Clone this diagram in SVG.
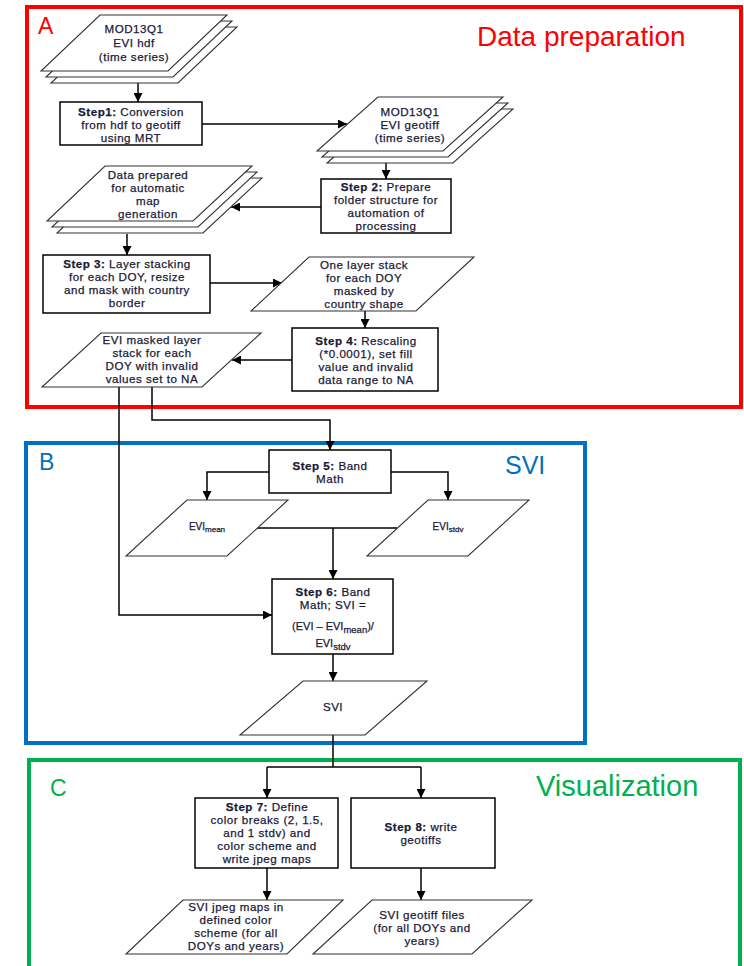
<svg xmlns="http://www.w3.org/2000/svg" width="744" height="966" viewBox="0 0 744 966">
<style>
  .bg{fill:#ffffff}
  .box{fill:#ffffff;stroke:#000;stroke-width:1.5}
  .io{fill:#ffffff;stroke:#333;stroke-width:1.1}
  .t{font-family:"Liberation Sans",Arial,sans-serif;font-size:11.6px;letter-spacing:0.5px;fill:#1a1a38;stroke:#1a1a38;stroke-width:0.25;text-anchor:middle}
  .b{font-weight:700}
  .small{font-size:10px;letter-spacing:0}
  .f11{font-size:11px;letter-spacing:0}
  .conn{fill:none;stroke:#000;stroke-width:1.5}
  .frame{fill:none;stroke-width:4}
  .lbl{font-family:"Liberation Sans",Arial,sans-serif}
</style>
<defs>
  <marker id="ah" viewBox="0 0 10 10" refX="10" refY="5" markerWidth="9" markerHeight="9" markerUnits="userSpaceOnUse" orient="auto">
    <path d="M0,0 L10,5 L0,10 z" fill="#000"/>
  </marker>
</defs>
<rect class="bg" x="0" y="0" width="744" height="966"/>

<g id="frames">
  <rect class="frame" x="27" y="7" width="714" height="400" stroke="#ff0000"/>
  <text class="lbl" x="38" y="34" font-size="23" fill="#ff0000">A</text>
  <text class="lbl" x="477" y="46" font-size="28" fill="#ff0000">Data preparation</text>
  <rect class="frame" x="26" y="443" width="559" height="300" stroke="#0070c0"/>
  <text class="lbl" x="39" y="470" font-size="23" fill="#0070c0">B</text>
  <text class="lbl" x="505" y="474" font-size="25" fill="#0070c0">SVI</text>
  <rect class="frame" x="29" y="760" width="711" height="230" stroke="#00b050"/>
  <text class="lbl" x="50" y="796" font-size="23" fill="#00b050">C</text>
  <text class="lbl" x="536" y="796" font-size="29" fill="#00b050">Visualization</text>
</g>

<g id="connectors">
  <path class="conn" d="M138,83 V102" marker-end="url(#ah)"/>
  <path class="conn" d="M202,124 H347" marker-end="url(#ah)"/>
  <path class="conn" d="M386,163 V179" marker-end="url(#ah)"/>
  <path class="conn" d="M321,207 H231" marker-end="url(#ah)"/>
  <path class="conn" d="M127,234 V255" marker-end="url(#ah)"/>
  <path class="conn" d="M210,283 H282" marker-end="url(#ah)"/>
  <path class="conn" d="M365,311 V328" marker-end="url(#ah)"/>
  <path class="conn" d="M292,360 H232" marker-end="url(#ah)"/>
  <path class="conn" d="M152,387 V420 H330 V450" marker-end="url(#ah)"/>
  <path class="conn" d="M119,387 V615 H272" marker-end="url(#ah)"/>
  <path class="conn" d="M269,472 H207 V500" marker-end="url(#ah)"/>
  <path class="conn" d="M391,472 H448 V500" marker-end="url(#ah)"/>
  <path class="conn" d="M256,528 H397"/>
  <path class="conn" d="M333,528 V579" marker-end="url(#ah)"/>
  <path class="conn" d="M333,654 V681" marker-end="url(#ah)"/>
  <path class="conn" d="M333,735 V767"/>
  <path class="conn" d="M267,767 H421"/>
  <path class="conn" d="M267,767 V798" marker-end="url(#ah)"/>
  <path class="conn" d="M421,767 V798" marker-end="url(#ah)"/>
  <path class="conn" d="M267,868 V900" marker-end="url(#ah)"/>
  <path class="conn" d="M421,868 V900" marker-end="url(#ah)"/>
</g>

<g id="evi-hdf">
  <polygon class="io" points="110,27 237,27 178,83 51,83"/>
  <polygon class="io" points="105,21 232,21 173,77 46,77"/>
  <polygon class="io" points="100,15 227,15 168,71 41,71"/>
  <text class="t" x="134" y="33">MOD13Q1</text>
  <text class="t" x="134" y="47">EVI hdf</text>
  <text class="t" x="134" y="61">(time series)</text>
</g>

<g id="step1">
  <rect class="box" x="60" y="102" width="142" height="43"/>
  <text class="t" x="131" y="116"><tspan class="b">Step1:</tspan> Conversion</text>
  <text class="t" x="131" y="129">from hdf to geotiff</text>
  <text class="t" x="131" y="142">using MRT</text>
</g>

<g id="evi-geotiff">
  <polygon class="io" points="388,109 513,109 453,163 327,163"/>
  <polygon class="io" points="383,103 508,103 448,157 322,157"/>
  <polygon class="io" points="378,97 503,97 443,151 317,151"/>
  <text class="t" x="410" y="116">MOD13Q1</text>
  <text class="t" x="410" y="129">EVI geotiff</text>
  <text class="t" x="410" y="142">(time series)</text>
</g>

<g id="step2">
  <rect class="box" x="321" y="179" width="130" height="54"/>
  <text class="t" x="386" y="191"><tspan class="b">Step 2:</tspan> Prepare</text>
  <text class="t" x="386" y="204">folder structure for</text>
  <text class="t" x="386" y="217">automation of</text>
  <text class="t" x="386" y="230">processing</text>
</g>

<g id="data-prepared">
  <polygon class="io" points="115,178 262,178 203,233 57,233"/>
  <polygon class="io" points="110,172 257,172 198,227 52,227"/>
  <polygon class="io" points="105,166 252,166 193,221 47,221"/>
  <text class="t" x="148" y="179">Data prepared</text>
  <text class="t" x="148" y="192">for automatic</text>
  <text class="t" x="148" y="205">map</text>
  <text class="t" x="148" y="218">generation</text>
</g>

<g id="step3">
  <rect class="box" x="43" y="255" width="167" height="58"/>
  <text class="t" x="127" y="268"><tspan class="b">Step 3:</tspan> Layer stacking</text>
  <text class="t" x="127" y="281">for each DOY, resize</text>
  <text class="t" x="127" y="294">and mask with country</text>
  <text class="t" x="127" y="307">border</text>
</g>

<g id="layer-stack">
  <polygon class="io" points="309,257 474,257 416,311 251,311"/>
  <text class="t" x="364" y="269">One layer stack</text>
  <text class="t" x="364" y="282">for each DOY</text>
  <text class="t" x="364" y="295">masked by</text>
  <text class="t" x="364" y="308">country shape</text>
</g>

<g id="step4">
  <rect class="box" x="292" y="328" width="146" height="63"/>
  <text class="t" x="366" y="345"><tspan class="b">Step 4:</tspan> Rescaling</text>
  <text class="t" x="366" y="358">(*0.0001), set fill</text>
  <text class="t" x="366" y="371">value and invalid</text>
  <text class="t" x="366" y="384">data range to NA</text>
</g>

<g id="evi-masked">
  <polygon class="io" points="101,333 261,333 202,387 42,387"/>
  <text class="t" x="152" y="344">EVI masked layer</text>
  <text class="t" x="152" y="357">stack for each</text>
  <text class="t" x="152" y="370">DOY with invalid</text>
  <text class="t" x="152" y="383">values set to NA</text>
</g>

<g id="step5">
  <rect class="box" x="269" y="450" width="122" height="43"/>
  <text class="t" x="330" y="470"><tspan class="b">Step 5:</tspan> Band</text>
  <text class="t" x="330" y="483">Math</text>
</g>

<g id="evi-mean">
  <polygon class="io" points="187,500 288,500 227,556 126,556"/>
  <text class="t small" x="207" y="530">EVI<tspan font-size="8" dy="2">mean</tspan></text>
</g>

<g id="evi-stdv">
  <polygon class="io" points="428,500 529,500 468,556 367,556"/>
  <text class="t small" x="448" y="530">EVI<tspan font-size="8" dy="2">stdv</tspan></text>
</g>

<g id="step6">
  <rect class="box" x="272" y="579" width="121" height="75"/>
  <text class="t" x="333" y="596"><tspan class="b">Step 6:</tspan> Band</text>
  <text class="t" x="333" y="609">Math; SVI =</text>
  <text class="t f11" x="333" y="630">(EVI – EVI<tspan font-size="9.5" dy="3">mean</tspan><tspan dy="-3">)/</tspan></text>
  <text class="t f11" x="333" y="647">EVI<tspan font-size="9.5" dy="3">stdv</tspan></text>
</g>

<g id="svi">
  <polygon class="io" points="303,681 427,681 365,735 240,735"/>
  <text class="t" x="333" y="711">SVI</text>
</g>

<g id="step7">
  <rect class="box" x="195" y="798" width="143" height="70"/>
  <text class="t" x="267" y="811"><tspan class="b">Step 7:</tspan> Define</text>
  <text class="t" x="267" y="824">color breaks (2, 1.5,</text>
  <text class="t" x="267" y="837">and 1 stdv) and</text>
  <text class="t" x="267" y="850">color scheme and</text>
  <text class="t" x="267" y="863">write jpeg maps</text>
</g>

<g id="step8">
  <rect class="box" x="351" y="798" width="144" height="70"/>
  <text class="t" x="421" y="831"><tspan class="b">Step 8:</tspan> write</text>
  <text class="t" x="421" y="844">geotiffs</text>
</g>

<g id="svi-jpeg">
  <polygon class="io" points="183,900 343,900 287,954 126,954"/>
  <text class="t" x="236" y="911">SVI jpeg maps in</text>
  <text class="t" x="236" y="924">defined color</text>
  <text class="t" x="236" y="937">scheme (for all</text>
  <text class="t" x="236" y="950">DOYs and years)</text>
</g>

<g id="svi-geotiff">
  <polygon class="io" points="372,900 532,900 472,954 313,954"/>
  <text class="t" x="422" y="919">SVI geotiff files</text>
  <text class="t" x="422" y="932">(for all DOYs and</text>
  <text class="t" x="422" y="945">years)</text>
</g>
</svg>
